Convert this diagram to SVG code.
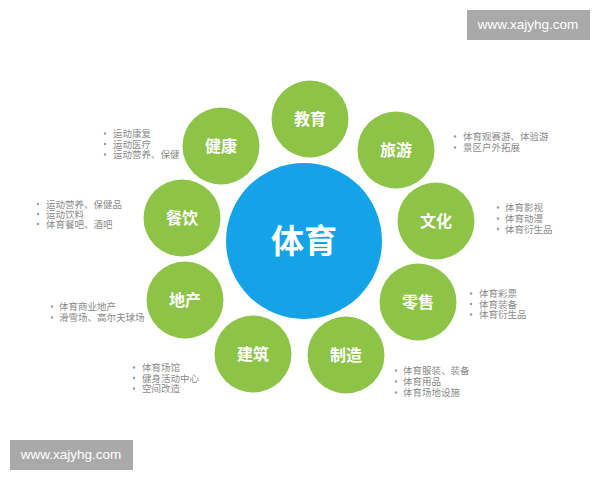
<svg xmlns="http://www.w3.org/2000/svg" width="600" height="480" viewBox="0 0 600 480">
<style>
.g{fill:#8dc447}
.lbl{fill:#fff;font-family:"Noto Sans CJK SC","Noto Sans",sans-serif;font-weight:bold;font-size:16px;text-anchor:middle}
.big{fill:#fff;font-family:"Noto Sans CJK SC","Noto Sans",sans-serif;font-weight:bold;font-size:33px;text-anchor:middle}
.li{fill:#8a8a8a;font-family:"Liberation Sans","Noto Sans CJK SC",sans-serif;font-size:9.5px}
.b{fill:#9a9a9a}
.wm{fill:#a9a9a9}
.wt{fill:#fff;font-family:"Liberation Sans",Arial,sans-serif;font-size:13.5px;text-anchor:middle}
</style>
<defs><circle id="dot" r="1.2"/></defs>
<rect width="600" height="480" fill="#fff"/>
<g id="watermark-top"><rect class="wm" x="467" y="10" width="123" height="30"/><text class="wt" x="528" y="29">www.xajyhg.com</text></g>
<g id="watermark-bottom"><rect class="wm" x="10" y="440" width="123" height="30"/><text class="wt" x="71" y="459">www.xajyhg.com</text></g>
<g id="connectors"></g>
<g id="center"><circle cx="304" cy="241" r="78" fill="#14a3e6"/><text class="big" x="304" y="253">体育</text></g>
<g id="jiaoyu"><circle class="g" cx="310" cy="119" r="38.5"/><text class="lbl" x="310" y="125">教育</text></g>
<g id="lvyou"><circle class="g" cx="396" cy="150" r="38.5"/><text class="lbl" x="396" y="156">旅游</text>
<use href="#dot" class="b" x="455" y="136.5"/><use href="#dot" class="b" x="455" y="147.5"/>
<text class="li"><tspan x="463" y="140">体育观赛游、体验游</tspan><tspan x="463" y="151">景区户外拓展</tspan></text></g>
<g id="wenhua"><circle class="g" cx="436" cy="221" r="38.5"/><text class="lbl" x="436" y="227">文化</text>
<use href="#dot" class="b" x="498" y="207.5"/><use href="#dot" class="b" x="498" y="218.5"/><use href="#dot" class="b" x="498" y="229"/>
<text class="li"><tspan x="505" y="211">体育影视</tspan><tspan x="505" y="222">体育动漫</tspan><tspan x="505" y="232.5">体育衍生品</tspan></text></g>
<g id="lingshou"><circle class="g" cx="418" cy="302" r="38.5"/><text class="lbl" x="418" y="308">零售</text>
<use href="#dot" class="b" x="471" y="293.5"/><use href="#dot" class="b" x="471" y="304"/><use href="#dot" class="b" x="471" y="314.5"/>
<text class="li"><tspan x="479" y="297">体育彩票</tspan><tspan x="479" y="307.5">体育装备</tspan><tspan x="479" y="318">体育衍生品</tspan></text></g>
<g id="zhizao"><circle class="g" cx="346" cy="355" r="38.5"/><text class="lbl" x="346" y="361">制造</text>
<use href="#dot" class="b" x="396" y="370.5"/><use href="#dot" class="b" x="396" y="381.5"/><use href="#dot" class="b" x="396" y="392.5"/>
<text class="li"><tspan x="403" y="374">体育服装、装备</tspan><tspan x="403" y="385">体育用品</tspan><tspan x="403" y="396">体育场地设施</tspan></text></g>
<g id="jianzhu"><circle class="g" cx="253" cy="354" r="38.5"/><text class="lbl" x="253" y="360">建筑</text>
<use href="#dot" class="b" x="134" y="367.5"/><use href="#dot" class="b" x="134" y="378"/><use href="#dot" class="b" x="134" y="388.5"/>
<text class="li"><tspan x="142" y="371">体育场馆</tspan><tspan x="142" y="381.5">健身活动中心</tspan><tspan x="142" y="392">空间改造</tspan></text></g>
<g id="dichan"><circle class="g" cx="185" cy="300" r="38.5"/><text class="lbl" x="185" y="306">地产</text>
<use href="#dot" class="b" x="52" y="306.5"/><use href="#dot" class="b" x="52" y="317.5"/>
<text class="li"><tspan x="59" y="310">体育商业地产</tspan><tspan x="59" y="321">滑雪场、高尔夫球场</tspan></text></g>
<g id="canyin"><circle class="g" cx="182" cy="218" r="38.5"/><text class="lbl" x="182" y="224">餐饮</text>
<use href="#dot" class="b" x="38" y="204"/><use href="#dot" class="b" x="38" y="214"/><use href="#dot" class="b" x="38" y="224"/>
<text class="li"><tspan x="46" y="207.5">运动营养、保健品</tspan><tspan x="46" y="217.5">运动饮料</tspan><tspan x="46" y="227.5">体育餐吧、酒吧</tspan></text></g>
<g id="jiankang"><circle class="g" cx="221" cy="146" r="38.5"/><text class="lbl" x="221" y="152">健康</text>
<use href="#dot" class="b" x="105" y="133.5"/><use href="#dot" class="b" x="105" y="144"/><use href="#dot" class="b" x="105" y="154.5"/>
<text class="li"><tspan x="113" y="137">运动康复</tspan><tspan x="113" y="147.5">运动医疗</tspan><tspan x="113" y="158">运动营养、保健</tspan></text></g>
</svg>
